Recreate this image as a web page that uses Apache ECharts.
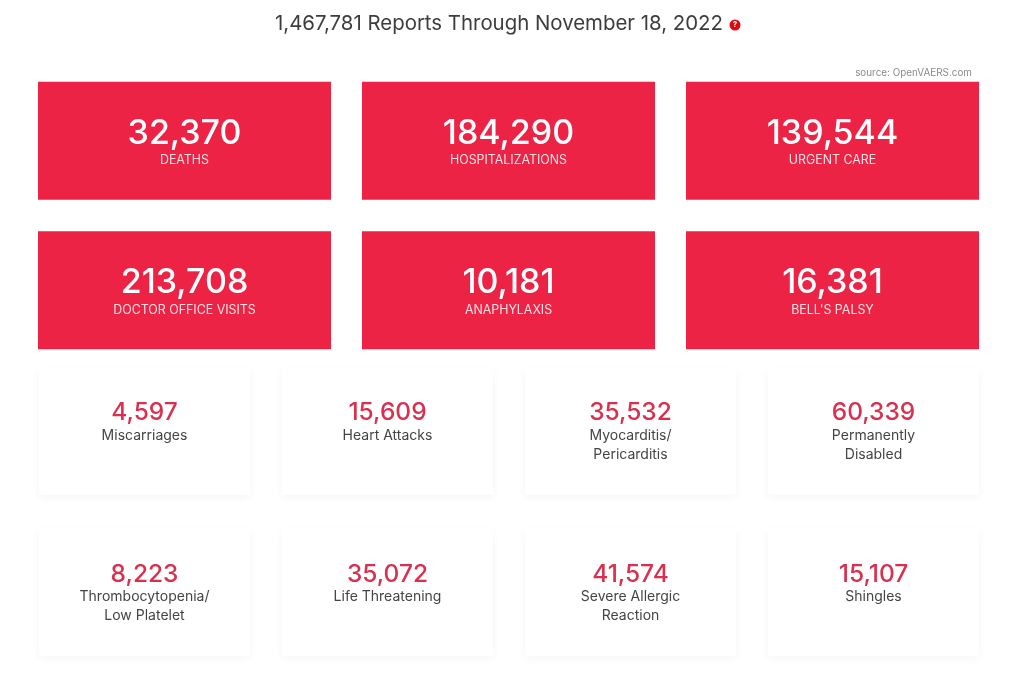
<!DOCTYPE html>
<html><head><meta charset="utf-8">
<style>html,body{margin:0;padding:0;background:#fff}#c{width:1024px;height:679px}</style>
<script src="https://cdn.jsdelivr.net/npm/echarts@6/dist/echarts.min.js"></script>
</head><body><div id="c"></div>
<script>
const titleText = "1,467,781 Reports Through November 18, 2022";
const sourceText = "source: OpenVAERS.com";
const bigLabels = ["DEATHS","HOSPITALIZATIONS","URGENT CARE","DOCTOR OFFICE VISITS","ANAPHYLAXIS","BELL'S PALSY"];
const bigValues = [32370,184290,139544,213708,10181,16381];
const smallLabels = ["Miscarriages","Heart Attacks","Myocarditis/\nPericarditis","Permanently\nDisabled","Thrombocytopenia/\nLow Platelet","Life Threatening","Severe Allergic\nReaction","Shingles"];
const smallValues = [4597,15609,35532,60339,8223,35072,41574,15107];
const bigCols = ["a","b","c"], bigRows = ["r1","r2"];
const smallCols = ["a","b","c","d"], smallRows = ["r1","r2"];

const FONT = "Inter";
const fmt = v => v.toLocaleString("en-US");
const cells = (labels, values, nCols, cols, rows) => values.map((v,i)=>[cols[i%nCols], rows[Math.floor(i/nCols)], v, labels[i]]);

function bigItem(params, api){
  const p = api.coord([api.value(0), api.value(1)]);
  const w = 293, h = 118;
  return {type:"group", children:[
    {type:"rect", shape:{x:p[0]-w/2,y:p[1]-h/2,width:w,height:h}, style:{fill:"#EC2344"}},
    {type:"text", style:{x:p[0],y:p[1]-7,text:fmt(api.value(2)),fill:"#fff",font:"500 34px "+FONT,align:"center",verticalAlign:"middle"}},
    {type:"text", style:{x:p[0],y:p[1]+20,text:bigLabels[params.dataIndex],fill:"#f9dfe3",font:"400 12.4px "+FONT,align:"center",verticalAlign:"middle"}}
  ]};
}
function smallItem(params, api){
  const p = api.coord([api.value(0), api.value(1)]);
  const w = 211, h = 128;
  const lines = smallLabels[params.dataIndex].split("\n");
  const kids = [
    {type:"rect", shape:{x:p[0]-w/2,y:p[1]-h/2,width:w,height:h}, style:{fill:"#fff",shadowBlur:9,shadowColor:"rgba(0,0,0,0.045)",shadowOffsetY:3}},
    {type:"text", style:{x:p[0],y:p[1]-18,text:fmt(api.value(2)),fill:"#D9304F",font:"500 24.5px "+FONT,align:"center",verticalAlign:"middle"}}
  ];
  lines.forEach((t,i)=>kids.push({type:"text", style:{x:p[0],y:p[1]+5+i*19,text:t,fill:"#444",font:"400 14px "+FONT,align:"center",verticalAlign:"middle"}}));
  return {type:"group", children:kids};
}
const hiddenAxis = (data, inverse, gridIndex) => ({type:"category",data,inverse,gridIndex,show:false});

const chart = echarts.init(document.getElementById("c"),null,{renderer:"canvas"});
chart.setOption({
  animation:false,
  backgroundColor:"#fff",
  title:{text:titleText,left:270,top:9,textStyle:{fontFamily:FONT,fontSize:20.4,fontWeight:400,color:"#3d3d3d"}},
  grid:[
    {left:22.5,top:66,width:972,height:299},
    {left:23,top:350,width:972,height:323}
  ],
  xAxis:[hiddenAxis(bigCols,false,0),hiddenAxis(smallCols,false,1)],
  yAxis:[hiddenAxis(bigRows,true,0),hiddenAxis(smallRows,true,1)],
  series:[
    {type:"custom",xAxisIndex:0,yAxisIndex:0,renderItem:bigItem,data:cells(bigLabels,bigValues,3,bigCols,bigRows),clip:false},
    {type:"custom",xAxisIndex:1,yAxisIndex:1,renderItem:smallItem,data:cells(smallLabels,smallValues,4,smallCols,smallRows),clip:false}
  ],
  graphic:[
    {type:"text",right:52,top:68,style:{text:sourceText,fill:"#8a8a8a",font:"400 9.9px "+FONT}},
    {type:"circle",shape:{cx:735,cy:25,r:5.5},style:{fill:"#E0080F"}},
    {type:"text",style:{x:735,y:25,text:"?",fill:"#fff",font:"700 8px "+FONT,align:"center",verticalAlign:"middle"}}
  ]
});
</script></body></html>
